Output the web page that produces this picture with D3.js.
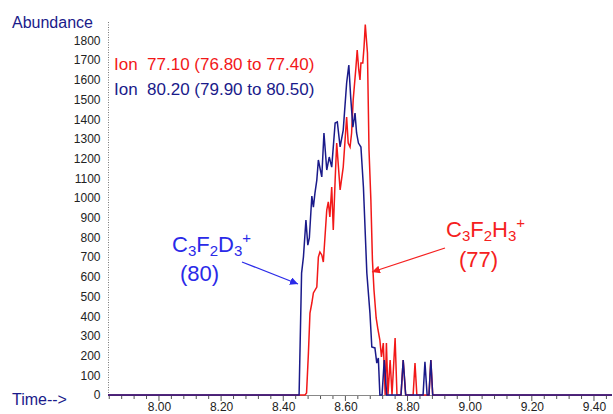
<!DOCTYPE html>
<html>
<head>
<meta charset="utf-8">
<script src="https://cdn.jsdelivr.net/npm/d3@7"></script>
<style>
  body { margin: 0; background: #fff; }
  text { font-family: Arial, "Liberation Sans", sans-serif; }
</style>
</head>
<body>
<svg width="613" height="414"></svg>
<script>
// ion 80.20 (C3F2D3+), navy trace
var times80 = [7.836, 8.451, 8.459, 8.465, 8.473, 8.479, 8.484, 8.492, 8.497, 8.502, 8.508, 8.513,
  8.524, 8.531, 8.540, 8.548, 8.556, 8.567, 8.574, 8.583, 8.593, 8.604, 8.611, 8.617, 8.624,
  8.631, 8.636, 8.642, 8.650, 8.658, 8.669, 8.679, 8.685, 8.695, 8.701, 8.706, 8.711, 8.718,
  8.725, 8.733, 8.779, 8.786, 8.794, 8.850, 8.856, 8.863, 8.869, 8.875, 8.881, 9.458];
var abund80 = [0, 0, 619, 701, 888, 761, 797, 1010, 954, 1025, 1091, 1193,
  1107, 1330, 1142, 1208, 1157, 1381, 1386, 1259, 1345, 1584, 1675, 1513, 1360,
  1431, 1330, 1279, 1259, 1056, 619, 416, 244, 239, 162, 188, 0, 0,
  178, 0, 0, 178, 0, 0, 168, 0, 0, 178, 0, 0];

// ion 77.10 (C3F2H3+), red trace
var times77 = [7.836, 8.470, 8.475, 8.481, 8.486, 8.492, 8.497, 8.508, 8.513, 8.518, 8.524, 8.529,
  8.540, 8.545, 8.550, 8.556, 8.561, 8.567, 8.572, 8.583, 8.593, 8.604, 8.609, 8.615, 8.620,
  8.625, 8.634, 8.638, 8.643, 8.647, 8.650, 8.656, 8.660, 8.664, 8.671, 8.676, 8.682, 8.687,
  8.692, 8.699, 8.705, 8.711, 8.716, 8.722, 8.728, 8.732, 8.737, 8.744, 8.750, 8.760, 8.766,
  8.779, 8.786, 8.794, 8.818, 8.824, 8.830, 8.869, 8.875, 8.881, 9.458];
var abund77 = [0, 0, 10, 213, 416, 467, 518, 548, 700, 726, 711, 675,
  939, 980, 904, 1056, 838, 1091, 1279, 1041, 1157, 1411, 1279, 1259, 1330,
  1497, 1665, 1751, 1650, 1599, 1685, 1685, 1767, 1880, 1736, 1244, 990, 685,
  533, 391, 330, 279, 193, 264, 0, 264, 0, 178, 0, 289, 0,
  0, 178, 0, 0, 162, 0, 0, 178, 0, 0];

var yTicks = d3.range(0, 1801, 100);
var xLabels = [8.00, 8.20, 8.40, 8.60, 8.80, 9.00, 9.20, 9.40];
var legendLines = ["Ion  77.10 (76.80 to 77.40)", "Ion  80.20 (79.90 to 80.50)"];

var red = "#f21818", navy = "#1a1a8a", annBlue = "#2a2ae8", annRed = "#f52020";

var svg = d3.select("svg");

var x = d3.scaleLinear().domain([7.836, 9.458]).range([108, 612]);
var y = d3.scaleLinear().domain([0, 1800]).range([395, 40.4]);

// y axis: dotted line, labels only
svg.append("line")
    .attr("x1", 108.5).attr("x2", 108.5)
    .attr("y1", 22).attr("y2", 395)
    .attr("stroke", "#777")
    .attr("stroke-dasharray", "1,1.5");

var yAxis = svg.append("g")
    .attr("transform", "translate(108.5,0)")
    .call(d3.axisLeft(y).tickValues(yTicks).tickSize(0).tickPadding(8).tickFormat(d3.format("d")));
yAxis.select(".domain").remove();
yAxis.selectAll("text")
    .attr("font-size", 12).attr("fill", "#222")
    .attr("font-family", "Arial, 'Liberation Sans', sans-serif");

// x axis
svg.append("line")
    .attr("x1", 108).attr("x2", 612)
    .attr("y1", 395.5).attr("y2", 395.5)
    .attr("stroke", "#888");

var minor = d3.range(7.84, 9.46, 0.04);
svg.append("g").selectAll("line")
    .data(minor)
    .enter().append("line")
      .attr("x1", function(d) { return x(d); })
      .attr("x2", function(d) { return x(d); })
      .attr("y1", 396)
      .attr("y2", function(d) { return Math.abs(d * 5 - Math.round(d * 5)) < 0.01 ? 401 : 399; })
      .attr("stroke", "#555");

var xAxis = svg.append("g")
    .attr("transform", "translate(0,396)")
    .call(d3.axisBottom(x).tickValues(xLabels).tickSize(0).tickPadding(6).tickFormat(d3.format(".2f")));
xAxis.select(".domain").remove();
xAxis.selectAll("text")
    .attr("font-size", 12).attr("fill", "#222")
    .attr("font-family", "Arial, 'Liberation Sans', sans-serif");

svg.append("text").attr("x", 12).attr("y", 28)
    .attr("font-size", 16).attr("fill", navy).text("Abundance");
svg.append("text").attr("x", 12).attr("y", 405)
    .attr("font-size", 16).attr("fill", navy).text("Time-->");

// traces
var line = d3.line()
    .x(function(d) { return x(d[0]); })
    .y(function(d) { return y(d[1]); });

svg.append("path")
    .datum(d3.zip(times77, abund77))
    .attr("d", line)
    .attr("fill", "none").attr("stroke", red).attr("stroke-width", 1.5);

svg.append("path")
    .datum(d3.zip(times80, abund80))
    .attr("d", line)
    .attr("fill", "none").attr("stroke", navy).attr("stroke-width", 1.5);

// legend
svg.selectAll(".legend")
    .data(legendLines)
    .enter().append("text")
      .attr("class", "legend")
      .attr("x", 114)
      .attr("y", function(d, i) { return 70 + i * 25; })
      .attr("font-size", 17)
      .attr("xml:space", "preserve")
      .attr("fill", function(d, i) { return i === 0 ? red : navy; })
      .text(function(d) { return d; });

// annotations
var defs = svg.append("defs");
function marker(id, col) {
  defs.append("marker")
      .attr("id", id)
      .attr("viewBox", "0 0 10 10")
      .attr("refX", 10).attr("refY", 5)
      .attr("markerWidth", 8).attr("markerHeight", 8)
      .attr("markerUnits", "userSpaceOnUse")
      .attr("orient", "auto")
    .append("path")
      .attr("d", "M0,0L10,5L0,10Z")
      .attr("fill", col);
}
marker("arrBlue", annBlue);
marker("arrRed", annRed);

function formula(xp, yp, col, parts) {
  var t = svg.append("text").attr("x", xp).attr("y", yp)
      .attr("font-size", 22).attr("fill", col);
  parts.forEach(function(p) {
    var s = t.append("tspan").text(p[0]);
    if (p[1] === "sub") s.attr("font-size", 15).attr("dy", 4);
    else if (p[1] === "sup") s.attr("font-size", 15).attr("dy", -13);
    else if (p[1] === "base") s.attr("dy", -4);
  });
  return t;
}

formula(172, 252, annBlue, [["C"], ["3", "sub"], ["F", "base"], ["2", "sub"], ["D", "base"], ["3", "sub"], ["+", "sup"]]);
svg.append("text").attr("x", 180).attr("y", 281)
    .attr("font-size", 22).attr("fill", annBlue).text("(80)");
svg.append("line")
    .attr("x1", 242).attr("y1", 262).attr("x2", 298).attr("y2", 284)
    .attr("stroke", annBlue).attr("stroke-width", 1.2)
    .attr("marker-end", "url(#arrBlue)");

formula(446, 237, annRed, [["C"], ["3", "sub"], ["F", "base"], ["2", "sub"], ["H", "base"], ["3", "sub"], ["+", "sup"]]);
svg.append("text").attr("x", 459).attr("y", 267)
    .attr("font-size", 22).attr("fill", annRed).text("(77)");
svg.append("line")
    .attr("x1", 445).attr("y1", 248).attr("x2", 372).attr("y2", 272)
    .attr("stroke", annRed).attr("stroke-width", 1.2)
    .attr("marker-end", "url(#arrRed)");
</script>
</body>
</html>
